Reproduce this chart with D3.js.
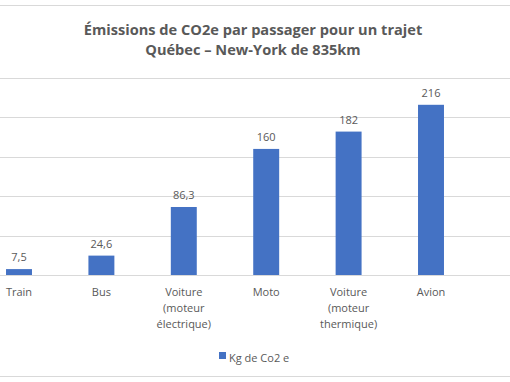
<!DOCTYPE html>
<html><head><meta charset="utf-8">
<script src="https://cdn.jsdelivr.net/npm/d3@7"></script>
<style>body{margin:0;background:#fff}svg{display:block}</style>
</head><body>
<svg id="c" width="510" height="382"></svg>
<script>
const categories = [["Train"],["Bus"],["Voiture","(moteur","électrique)"],["Moto"],["Voiture","(moteur","thermique)"],["Avion"]];
const values = [7.5, 24.6, 86.3, 160, 182, 216];
const valueLabels = ["7,5","24,6","86,3","160","182","216"];
const yTicks = [0, 50, 100, 150, 200, 250];
const titleLines = ["Émissions de CO2e par passager pour un trajet","Québec – New-York de 835km"];
const seriesName = "Kg de Co2 e";

const svg = d3.select("#c");
const W = 510, H = 382;
const font = "'Open Sans', sans-serif";
const txt = "#595959";

// chart border lines (cropped frame)
svg.append("line").attr("x1",0).attr("x2",W).attr("y1",5.5).attr("y2",5.5).attr("stroke","#d9d9d9");
svg.append("line").attr("x1",0).attr("x2",W).attr("y1",376.5).attr("y2",376.5).attr("stroke","#d9d9d9");

const x = d3.scaleBand().domain(d3.range(categories.length)).range([-22.2, 472.2]).paddingInner(0.685).paddingOuter(0.3425);
const y = d3.scaleLinear().domain([0, 250]).range([275, 78]);

// gridlines
svg.append("g").selectAll("line").data(yTicks).join("line")
  .attr("x1",0).attr("x2",W)
  .attr("y1",d=>Math.round(y(d))+0.5).attr("y2",d=>Math.round(y(d))+0.5)
  .attr("stroke","#d9d9d9").attr("stroke-width",1);

// bars
svg.append("g").selectAll("rect").data(values).join("rect")
  .attr("x",(d,i)=>x(i)).attr("width",x.bandwidth())
  .attr("y",d=>y(d)).attr("height",d=>y(0)-y(d))
  .attr("fill","#4472C4");

// value labels
svg.append("g").selectAll("text").data(values).join("text")
  .attr("x",(d,i)=>x(i)+x.bandwidth()/2).attr("y",d=>y(d)-8)
  .attr("text-anchor","middle").attr("font-family",font).attr("font-size",11).attr("fill",txt)
  .text((d,i)=>valueLabels[i]);

// category labels
const cl = svg.append("g").selectAll("text").data(categories).join("text")
  .attr("x",(d,i)=>x(i)+x.bandwidth()/2).attr("y",296)
  .attr("text-anchor","middle").attr("font-family",font).attr("font-size",11).attr("fill",txt);
cl.selectAll("tspan").data(d=>d).join("tspan")
  .attr("x",function(){return this.parentNode.getAttribute("x");})
  .attr("dy",(d,j)=>j===0?0:16).text(d=>d);

// title
svg.append("g").selectAll("text").data(titleLines).join("text")
  .attr("x",253).attr("y",(d,i)=>35+i*20)
  .attr("text-anchor","middle").attr("font-family",font).attr("font-weight","bold").attr("font-size",14.6).attr("fill",txt)
  .text(d=>d);

// legend
const lg = svg.append("g");
lg.append("rect").attr("x",219).attr("y",352).attr("width",7).attr("height",7).attr("fill","#4472C4");
lg.append("text").attr("x",229).attr("y",362).attr("font-family",font).attr("font-size",11).attr("fill",txt).text(seriesName);
</script>
</body></html>
